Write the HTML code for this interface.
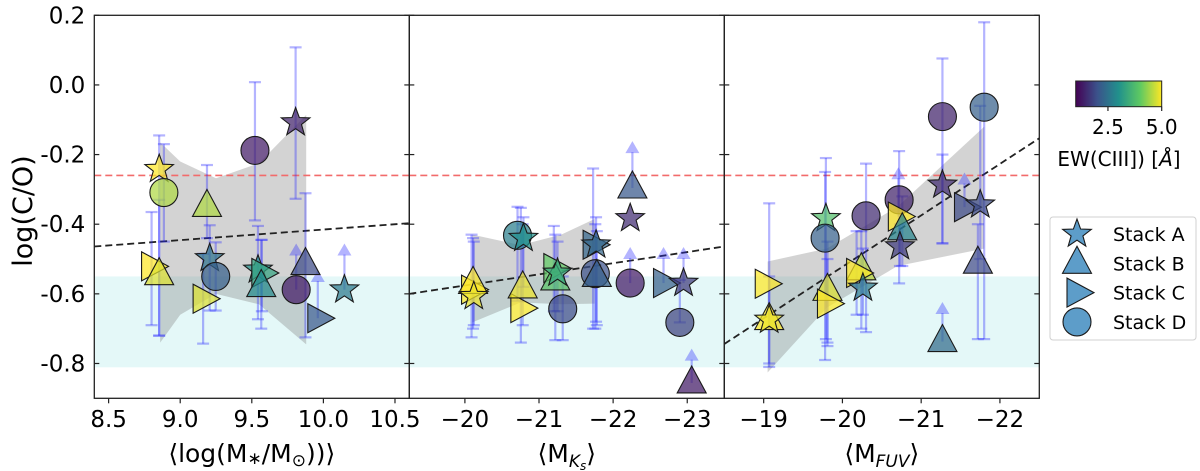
<!DOCTYPE html>
<html><head><meta charset="utf-8"><style>
body{margin:0;background:#fff;}
svg{display:block;font-family:"DejaVu Sans","Liberation Sans",sans-serif;}
</style></head><body>
<svg id="chart" width="1200" height="471" viewBox="0 0 1200 471" xmlns="http://www.w3.org/2000/svg">
<defs><linearGradient id="vir" x1="0" x2="1" y1="0" y2="0">
<stop offset="0" stop-color="#440154"/><stop offset="0.25" stop-color="#3b528b"/><stop offset="0.5" stop-color="#21918c"/><stop offset="0.75" stop-color="#5ec962"/><stop offset="1" stop-color="#fde725"/></linearGradient></defs>
</svg>
<script>
// ---------- data ----------
const yTicks=[0.2,0.0,-0.2,-0.4,-0.6,-0.8];
const yTickLabels=["0.2","0.0","-0.2","-0.4","-0.6","-0.8"];
const redLine=-0.26;
const cyanBand=[-0.55,-0.811];
const p1Ticks=[8.5,9.0,9.5,10.0,10.5];
const p1TickLabels=["8.5","9.0","9.5","10.0","10.5"];
const p2Ticks=[-20,-21,-22,-23];
const p2TickLabels=["\u221220","\u221221","\u221222","\u221223"];
const p3Ticks=[-19,-20,-21,-22];
const p3TickLabels=["\u221219","\u221220","\u221221","\u221222"];
const p1Fit=[[8.4,-0.464],[10.6,-0.397]];
const p2Fit=[[-19.25,-0.60],[-23.5,-0.464]];
const p3Fit=[[-18.5,-0.744],[-22.5,-0.153]];
const p1BandX=[8.86,9.0,9.25,9.55,9.88];
const p1BandLo=[-0.74,-0.66,-0.60,-0.63,-0.745];
const p1BandHi=[-0.165,-0.22,-0.268,-0.225,-0.086];
const p2BandX=[-20.1,-20.75,-21.3,-21.75];
const p2BandLo=[-0.682,-0.625,-0.63,-0.628];
const p2BandHi=[-0.43,-0.46,-0.43,-0.385];
const p3BandX=[-19.05,-19.8,-20.7,-21.8];
const p3BandLo=[-0.826,-0.64,-0.52,-0.47];
const p3BandHi=[-0.507,-0.47,-0.35,-0.12];
// panel 1
const p1X=[8.853,8.886,8.8,8.853,9.187,9.206,9.248,9.16,9.522,9.806,9.543,9.57,9.566,9.81,9.875,9.961,10.147];
const p1Y=[-0.242,-0.309,-0.521,-0.545,-0.349,-0.498,-0.55,-0.614,-0.188,-0.108,-0.531,-0.54,-0.579,-0.588,-0.516,-0.67,-0.588];
const p1S=["A","D","C","B","B","A","D","C","D","A","A","C","B","D","B","C","A"];
const p1Ew=[5,4.5,5,4.8,4.5,2.5,2.2,4.8,1.3,1.4,3.0,3.3,2.9,1.3,1.9,2.1,2.6];
const p1Lo=[-0.72,-0.45,-0.69,-0.72,-0.44,-0.648,-0.648,-0.743,-0.389,-0.327,-0.673,-0.65,-0.7,-0.588,-0.725,-0.67,-0.588];
const p1Hi=[-0.145,-0.17,-0.365,-0.33,-0.23,-0.403,-0.452,-0.485,0.008,0.108,-0.405,-0.445,-0.445,-0.464,-0.311,-0.54,-0.464];
const p1Lim=[0,0,0,0,0,0,0,0,0,0,0,0,0,1,0,1,1];
// panel 2
const p2X=[-20.09,-20.11,-20.12,-20.755,-20.78,-20.71,-20.79,-21.20,-21.22,-21.25,-21.32,-21.73,-21.77,-21.76,-21.78,-22.26,-22.23,-22.23,-22.68,-22.95,-22.90,-23.06];
const p2Y=[-0.588,-0.57,-0.607,-0.641,-0.583,-0.432,-0.44,-0.526,-0.56,-0.54,-0.643,-0.459,-0.459,-0.542,-0.55,-0.296,-0.383,-0.569,-0.569,-0.569,-0.682,-0.856];
const p2S=["C","B","A","C","B","D","A","C","B","A","D","C","A","D","B","B","A","D","C","A","D","B"];
const p2Ew=[5,5,4.9,5,4.9,2.7,3.0,4.0,3.9,3.4,1.9,2.3,2.3,2.0,2.2,2.1,1.5,1.3,2.2,1.7,1.8,1.3];
const p2Lo=[-0.725,-0.7,-0.69,-0.74,-0.69,-0.62,-0.58,-0.65,-0.733,-0.65,-0.733,-0.7,-0.68,-0.7,-0.69,-0.296,-0.383,-0.569,-0.569,-0.569,-0.682,-0.856];
const p2Hi=[-0.43,-0.44,-0.45,-0.353,-0.4,-0.35,-0.38,-0.405,-0.43,-0.45,-0.55,-0.24,-0.38,-0.4,-0.42,-0.17,-0.383,-0.474,-0.474,-0.474,-0.56,-0.766];
const p2Lim=[0,0,0,0,0,0,0,0,0,0,0,0,0,0,0,1,0,1,1,1,0,1];
// panel 3
const p3X=[-19.02,-19.07,-19.07,-19.79,-19.78,-19.81,-19.81,-20.30,-20.24,-20.18,-20.26,-20.72,-20.71,-20.76,-20.73,-21.27,-21.27,-21.27,-21.80,-21.55,-21.75,-21.72];
const p3Y=[-0.571,-0.674,-0.675,-0.383,-0.44,-0.59,-0.628,-0.376,-0.531,-0.54,-0.583,-0.33,-0.378,-0.416,-0.464,-0.091,-0.287,-0.737,-0.064,-0.351,-0.344,-0.512];
const p3S=["C","B","A","A","D","B","C","D","B","C","A","D","C","B","A","D","A","B","D","C","A","B"];
const p3Ew=[5,5,4.9,3.8,2.2,4.8,5,1.5,4.6,5,2.6,1.4,5,2.8,1.7,1.4,1.5,2.4,2.2,1.9,1.9,1.9];
const p3Lo=[-0.571,-0.81,-0.8,-0.73,-0.79,-0.75,-0.74,-0.71,-0.7,-0.66,-0.66,-0.57,-0.378,-0.52,-0.52,-0.455,-0.455,-0.737,-0.73,-0.351,-0.5,-0.73];
const p3Hi=[-0.571,-0.34,-0.55,-0.21,-0.25,-0.45,-0.5,-0.226,-0.42,-0.42,-0.47,-0.19,-0.245,-0.32,-0.4,0.076,-0.2,-0.632,0.18,-0.26,-0.06,-0.4];
const p3Lim=[0,0,0,0,0,0,0,0,0,0,0,0,1,0,0,0,0,1,0,1,0,0];
const ewMin=1.0, ewMax=5.0;
const cbTicks=[2.5,5.0];
const cbTickLabels=["2.5","5.0"];
const legendLabels=["Stack A","Stack B","Stack C","Stack D"];
const legendShapes=["A","B","C","D"];

// ---------- helpers ----------
const svg=document.getElementById('chart');
const NS="http://www.w3.org/2000/svg";
function mk(tag,attrs,parent){const e=document.createElementNS(NS,tag);for(const k in attrs)e.setAttribute(k,attrs[k]);(parent||svg).appendChild(e);return e;}
const TOP=15.3,BOT=398.3;
function ys(v){return TOP+(0.2-v)/1.1*(BOT-TOP);}
const vir=[[68,1,84],[59,82,139],[33,145,140],[94,201,98],[253,231,37]];
function cmap(ew){let t=(ew-ewMin)/(ewMax-ewMin);t=Math.max(0,Math.min(1,t))*4;const i=Math.min(3,Math.floor(t)),f=t-i;const a=vir[i],b=vir[i+1];return `rgb(${Math.round(a[0]+(b[0]-a[0])*f)},${Math.round(a[1]+(b[1]-a[1])*f)},${Math.round(a[2]+(b[2]-a[2])*f)})`;}
function marker(shape,cx,cy,fill,parent){
  let e;
  if(shape==="D"){e=mk('circle',{cx:cx,cy:cy,r:14},parent);}
  else if(shape==="B"){e=mk('polygon',{points:`${cx},${cy-17} ${cx+14.5},${cy+10} ${cx-14.5},${cy+10}`},parent);}
  else if(shape==="C"){e=mk('polygon',{points:`${cx+17},${cy} ${cx-10},${cy+14.5} ${cx-10},${cy-14.5}`},parent);}
  else{let p=[];for(let k=0;k<10;k++){const r=k%2?6.2:15,a=-Math.PI/2+k*Math.PI/5;p.push((cx+r*Math.cos(a)).toFixed(1)+','+(cy+r*Math.sin(a)).toFixed(1));}e=mk('polygon',{points:p.join(' ')},parent);}
  e.setAttribute('fill',fill);e.setAttribute('fill-opacity','0.72');e.setAttribute('stroke','#1a1a1a');e.setAttribute('stroke-width','1.1');
  return e;
}
const names={A:'star',B:'triangle',C:'right-triangle',D:'circle'};
function panel(id,L,R,x0,x1,ticks,tlabels,xlabelHTML,fit,bx,blo,bhi,X,Y,S,E,LO,HI,LIM,showY){
  const xs=v=>L+(v-x0)/(x1-x0)*(R-L);
  const g=mk('g',{});
  
  
  const cb=mk('rect',{x:L,y:ys(cyanBand[0]),width:R-L,height:ys(cyanBand[1])-ys(cyanBand[0]),fill:'#b2ebea',opacity:0.35},g);
  
  
  let pts=[];for(let i=0;i<bx.length;i++)pts.push(xs(bx[i])+','+ys(bhi[i]));for(let i=bx.length-1;i>=0;i--)pts.push(xs(bx[i])+','+ys(blo[i]));
  const gb=mk('polygon',{points:pts.join(' '),fill:'#808080',opacity:0.35},g);
  
  
  const rl=mk('line',{x1:L,x2:R,y1:ys(redLine),y2:ys(redLine),stroke:'#f26b6b','stroke-width':1.6,'stroke-dasharray':'7,4'},g);
  
  
  const fl=mk('line',{x1:xs(fit[0][0]),y1:ys(fit[0][1]),x2:xs(fit[1][0]),y2:ys(fit[1][1]),stroke:'#222','stroke-width':1.8,'stroke-dasharray':'7,4'},g);
  
  
  for(let i=0;i<X.length;i++){
    const cx=xs(X[i]);
    const eb=mk('g',{stroke:'rgba(40,40,255,0.35)','stroke-width':2.2,fill:'rgba(40,40,255,0.35)'},g);
    
    
    if(LIM[i]){mk('line',{x1:cx,x2:cx,y1:ys(LO[i]),y2:ys(HI[i])+8},eb);mk('polygon',{points:`${cx},${ys(HI[i])-3} ${cx-7},${ys(HI[i])+9} ${cx+7},${ys(HI[i])+9}`,stroke:'none'},eb);}
    else if(HI[i]!==LO[i]){mk('line',{x1:cx,x2:cx,y1:ys(LO[i]),y2:ys(HI[i])},eb);mk('line',{x1:cx-6,x2:cx+6,y1:ys(LO[i]),y2:ys(LO[i])},eb);mk('line',{x1:cx-6,x2:cx+6,y1:ys(HI[i]),y2:ys(HI[i])},eb);}
  }
  for(let i=0;i<X.length;i++){
    const m=marker(S[i],xs(X[i]),ys(Y[i]),cmap(E[i]),g);
    
    
  }
  const fr=mk('rect',{x:L,y:TOP,width:R-L,height:BOT-TOP,fill:'none',stroke:'#222','stroke-width':1.3},g);
  
  
  for(let i=0;i<yTicks.length;i++){
    const y=ys(yTicks[i]);
    mk('line',{x1:L,x2:L+5,y1:y,y2:y,stroke:'#222','stroke-width':1.2},g);
    mk('line',{x1:R,x2:R-5,y1:y,y2:y,stroke:'#222','stroke-width':1.2},g);
    if(showY){const t=mk('text',{x:L-9,y:y+8,'text-anchor':'end','font-size':23,fill:'#000'},g);t.textContent=yTickLabels[i];
      
      }
  }
  for(let i=0;i<ticks.length;i++){
    const x=xs(ticks[i]);
    mk('line',{x1:x,x2:x,y1:BOT,y2:BOT+5,stroke:'#222','stroke-width':1.2},g);
    const t=mk('text',{x:x,y:427,'text-anchor':'middle','font-size':23,fill:'#000'},g);t.textContent=tlabels[i];
    
    
  }
  const xl=mk('text',{x:(L+R)/2,y:462,'text-anchor':'middle','font-size':25,fill:'#000'},g);
  xl.innerHTML=xlabelHTML;
  
  
}
panel('panel-stellar-mass',94.3,409.3,8.4,10.6,p1Ticks,p1TickLabels,'⟨log(M<tspan font-size="17" dy="2">∗</tspan><tspan dy="-2">/M</tspan><tspan font-size="17" dy="4">⊙</tspan><tspan dy="-4">))⟩</tspan>',p1Fit,p1BandX,p1BandLo,p1BandHi,p1X,p1Y,p1S,p1Ew,p1Lo,p1Hi,p1Lim,true);
panel('panel-mks',409.3,724.3,-19.25,-23.5,p2Ticks,p2TickLabels,'⟨M<tspan font-size="17" dy="5" font-style="italic">K<tspan font-size="12" dy="3">s</tspan></tspan><tspan dy="-8">⟩</tspan>',p2Fit,p2BandX,p2BandLo,p2BandHi,p2X,p2Y,p2S,p2Ew,p2Lo,p2Hi,p2Lim,false);
panel('panel-mfuv',724.3,1039.3,-18.5,-22.5,p3Ticks,p3TickLabels,'⟨M<tspan font-size="17" dy="5" font-style="italic">FUV</tspan><tspan dy="-5">⟩</tspan>',p3Fit,p3BandX,p3BandLo,p3BandHi,p3X,p3Y,p3S,p3Ew,p3Lo,p3Hi,p3Lim,false);

const yl=mk('text',{x:0,y:0,transform:'translate(32,211) rotate(-90)','text-anchor':'middle','font-size':27,fill:'#000'});
yl.textContent='log(C/O)';



// colorbar
const cbL=1075.7,cbR=1161.7;
const cbx=v=>cbL+(v-ewMin)/(ewMax-ewMin)*(cbR-cbL);
const cbr=mk('rect',{x:cbL,y:81,width:cbR-cbL,height:25.7,fill:'url(#vir)',stroke:'#222','stroke-width':1});


for(let i=0;i<cbTicks.length;i++){
  const x=cbx(cbTicks[i]);
  mk('line',{x1:x,x2:x,y1:106.7,y2:111,stroke:'#222','stroke-width':1.2});
  const t=mk('text',{x:x,y:134,'text-anchor':'middle','font-size':20,fill:'#000'});t.textContent=cbTickLabels[i];
  
  
}
const cbt=mk('text',{x:1119,y:166,'text-anchor':'middle','font-size':20,fill:'#000'});
cbt.innerHTML='EW(CIII]) [<tspan font-style="italic">Å</tspan>]';



// legend
const lg=mk('g',{});


mk('rect',{x:1050,y:217,width:146,height:123,rx:3,fill:'#fff',stroke:'#d0d0d0','stroke-width':1},lg);
for(let i=0;i<legendLabels.length;i++){
  const y=234+i*29.3;
  const m=marker(legendShapes[i],1077,y,'#1f77b4',lg);
  
  
  const t=mk('text',{x:1113,y:y+7,'font-size':19,fill:'#000'},lg);t.textContent=legendLabels[i];
  
  
}
</script>
</body></html>
